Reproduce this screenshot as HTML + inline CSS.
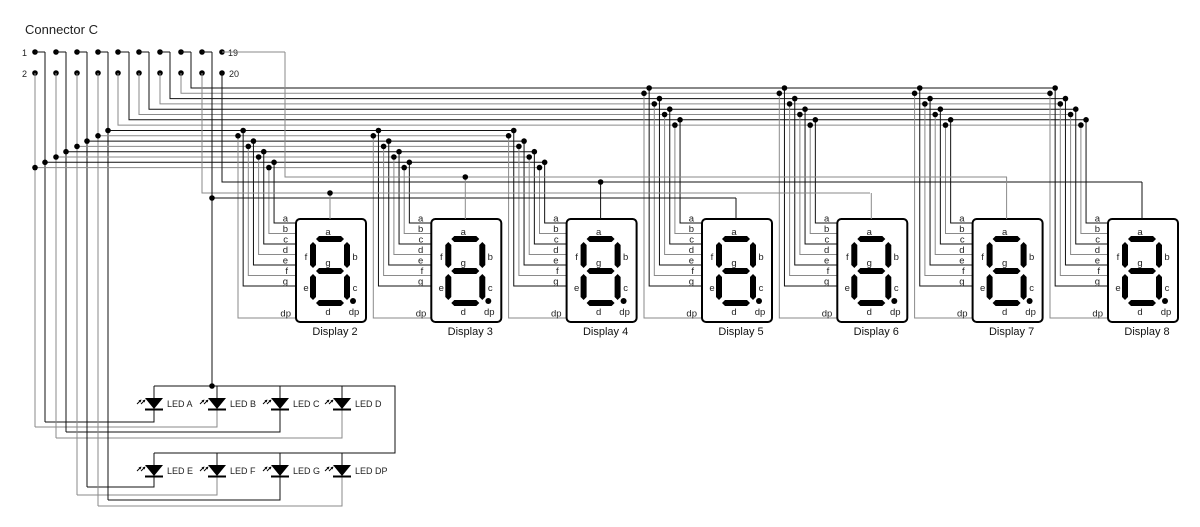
<!DOCTYPE html>
<html><head><meta charset="utf-8"><style>
html,body{margin:0;padding:0;background:#fff;}
svg{display:block;}
text{font-family:"Liberation Sans",Arial,sans-serif;}
</style></head><body>
<svg id="s" width="1200" height="527" viewBox="0 0 1200 527" xmlns="http://www.w3.org/2000/svg"></svg>
<script>
var o='';
var G='#8a8a8a',K='#111';
function L(x1,y1,x2,y2,c,w){o+='<line x1="'+x1+'" y1="'+y1+'" x2="'+x2+'" y2="'+y2+'" stroke="'+(c||K)+'" stroke-width="'+(w||1)+'"/>';}
function P(pts,c,w){o+='<polyline points="'+pts+'" fill="none" stroke="'+(c||K)+'" stroke-width="'+(w||1)+'"/>';}
function D(x,y,r){o+='<circle cx="'+x+'" cy="'+y+'" r="'+(r||2.8)+'" fill="#000"/>';}
function T(x,y,s,sz,a,c){o+='<text x="'+x+'" y="'+y+'" font-size="'+sz+'" text-anchor="'+(a||'start')+'" fill="'+(c||'#222')+'">'+s+'</text>';}
T(25,34,'Connector C',13);
var px=[35,56,77,98,118,139,160,181,202,222];
T(22,56,'1',9,'start');T(22,77,'2',9,'start');T(228,56,'19',9);T(229,77,'20',9);
for(var i=0;i<10;i++){D(px[i],52);D(px[i],73);}
var st=5.3;
var bB=[],bT=[];for(var j=0;j<8;j++){bB.push(130.5+j*st);bT.push(88+j*st);}
var bx=[35,45,56,66,77,87,98,108], bj=[7,6,5,4,3,2,1,0];
var bcol=[G,K,G,K,G,K,G,K];
var ret={35:427,45:422,56:438,66:432,77:495,87:487,98:506,108:500};
var ledx={35:217,45:154,56:342,66:280,77:217,87:154,98:342,108:280};
var map=[1,0,3,2,5,4,7,6];
var segY=[318,286,275.5,265,254.5,244,233.5,223];
var segN=['dp','g','f','e','d','c','b','a'];
var boxes=[296,431.3,566.6,702,837.3,972.6,1108];
var busEndB=[],busEndT=[];
for(var k=0;k<8;k++){
 var x=bx[k],c=bcol[k],y=bB[bj[k]];
 var ytop=(c==K)?52:73;
 if(c==K)L(x-10,52,x,52,K);
 L(x,ytop,x,ret[x],c);
 var lb=ret[x]<450?410:477;
 P(ledx[x]+','+lb+' '+ledx[x]+','+ret[x]+' '+x+','+ret[x],c);
}
var tx=[118,129,139,149,160,170,181,191],tj=[7,6,5,4,3,2,1,0];
function colJ(j){return bcol[7-j];}
// bus horizontals: end at last dot
for(var j=0;j<8;j++){
 var i=map.indexOf(j);
 var eB=boxes[2]-58+i*5.15, eT=boxes[6]-58+i*5.15;
 var kb=bj.indexOf(j);
 L(bx[kb],bB[j],eB,bB[j],colJ(j));D(bx[kb],bB[j]);
 var kt=tj.indexOf(j),x=tx[kt],c=bcol[kt],ytop=(c==K)?52:73;
 if(c==K)L(x-10,52,x,52,K);
 P(x+','+ytop+' '+x+','+bT[j]+' '+eT+','+bT[j],c);
}
for(var d=0;d<7;d++){
 var X=boxes[d], bus=d<3?bB:bT;
 for(var i=0;i<8;i++){
  var vx=X-58+i*5.15, j=map[i], y=bus[j], c=colJ(j);
  P(vx+','+y+' '+vx+','+segY[i]+' '+X+','+segY[i],c);
  D(vx,y);
  T(i==0?X-5:X-8,segY[i]-1.5,segN[i],9.5,'end','#222');
 }
 o+='<rect x="'+X+'" y="219" width="70" height="103" rx="4" fill="#fff" stroke="#000" stroke-width="2"/>';
 var h=function(x1,x2,y){o+='<polygon points="'+(X+x1)+','+y+' '+(X+x1+3)+','+(y-3)+' '+(X+x2-3)+','+(y-3)+' '+(X+x2)+','+y+' '+(X+x2-3)+','+(y+3)+' '+(X+x1+3)+','+(y+3)+'" fill="#000"/>';};
 var v=function(x,y1,y2){o+='<polygon points="'+(X+x)+','+y1+' '+(X+x+3)+','+(y1+3)+' '+(X+x+3)+','+(y2-3)+' '+(X+x)+','+y2+' '+(X+x-3)+','+(y2-3)+' '+(X+x-3)+','+(y1+3)+'" fill="#000"/>';};
 h(20,48,239);h(20,48,271);h(20,48,303);
 v(17,242,268);v(51,242,268);v(17,274,300);v(51,274,300);
 D(X+57,301,3);
 T(X+32,235,'a',9.5,'middle');T(X+10,260,'f',9.5,'middle');T(X+59,260,'b',9.5,'middle');
 T(X+32,266,'g',9.5,'middle');T(X+10,291,'e',9.5,'middle');T(X+59,291,'c',9.5,'middle');
 T(X+32,315,'d',9.5,'middle');T(X+58,315,'dp',9.5,'middle');
 T(X+39,335,'Display '+(d+2),11,'middle','#111');
}
L(222,52,285,52,G);P('285,52 285,177 1007,177',G);
P('222,73 222,182 1142,182',K);
P('202,73 202,193 870,193',G);
L(202,52,212,52,K);L(212,52,212,386,K);P('212,198 736,198',K);D(212,198);
var cm=[193,177,182,198,193,177,182];
for(var d=0;d<7;d++){var cx=boxes[d]+34,y=cm[d];
 var c=(y==177||y==193)?G:K;
 L(cx,y,cx,219,c);
 if(d<3)D(cx,y);
}
P('154,386 395,386 395,453 154,453',K);D(212,386);
var lx=[154,217,280,342],names1=['LED A','LED B','LED C','LED D'],names2=['LED E','LED F','LED G','LED DP'];
function led(cx,y0,name){
 L(cx,y0,cx,y0+12,K);
 o+='<polygon points="'+(cx-9)+','+(y0+12)+' '+(cx+9)+','+(y0+12)+' '+cx+','+(y0+23)+'" fill="#000"/>';
 L(cx-9,y0+23.5,cx+9,y0+23.5,'#000',2);
 for(var a=0;a<2;a++){var ax=cx-17+a*4,ay=y0+13;
  L(ax,ay+5,ax+3,ay+2,'#000',1);
  o+='<polygon points="'+(ax+4.5)+','+(ay+0.5)+' '+(ax+1.5)+','+(ay+1.5)+' '+(ax+3.5)+','+(ay+3.5)+'" fill="#000"/>';}
 T(cx+13,y0+21,name,9,'start','#222');
}
for(var i=0;i<4;i++){led(lx[i],386,names1[i]);led(lx[i],453,names2[i]);}
document.getElementById('s').innerHTML=o;
</script>
</body></html>
